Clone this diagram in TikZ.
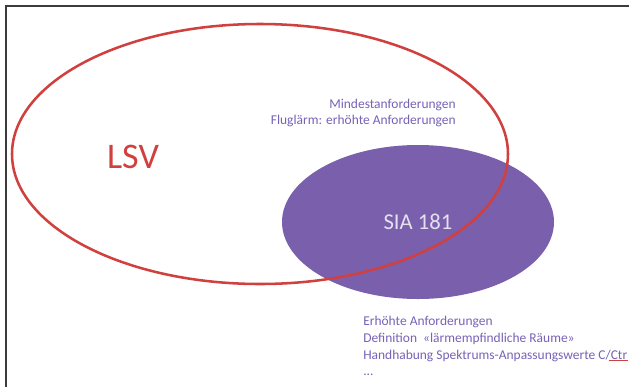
\documentclass[tikz,border=0pt]{standalone}
\usepackage{fontspec}
\setmainfont{Carlito}
\usetikzlibrary{shapes.geometric}

\definecolor{lsvred}{RGB}{208,64,62}
\definecolor{siaviolet}{RGB}{122,96,172}
\definecolor{notetext}{RGB}{118,98,182}
\definecolor{siatext}{RGB}{228,224,240}
\definecolor{framegray}{RGB}{60,60,60}

\begin{document}
\begin{tikzpicture}[x=0.75pt,y=0.75pt,yscale=-1,xscale=1,
  notes/.style={color=notetext, font=\fontsize{10.1}{12.6}\selectfont, inner sep=0pt},
  venn/.style={ellipse, outer sep=0pt, inner sep=0pt}]
\useasboundingbox (0,0) rectangle (629,387);

%Frame lines
\draw [color=framegray, line width=1.2] (6,387) -- (6,6) -- (629,6) ;

%Shape: Ellipse SIA
\node [venn, fill=siaviolet, minimum width=204, minimum height=115.5, text=siatext,
  font=\fontsize{17}{20}\selectfont] (sia) at (418,222) {SIA 181};
%Shape: Ellipse LSV
\draw (260,154) node [venn, draw=lsvred, line width=1.9, minimum width=372, minimum height=195] (lsv) {};

% Text Node
\node [color=lsvred, font=\fontsize{27}{30}\selectfont, inner sep=0pt] (lsvlabel) at (133,157) {LSV};
% Text Node
\node [notes, align=right, anchor=east] (upper) at (456,113) {Mindestanforderungen\\Fluglärm: erhöhte Anforderungen};
% Text Node
\node [notes, align=left, anchor=west] (lower) at (363,346) {Erhöhte Anforderungen\\Definition\ \ «lärmempfindliche Räume»\\Handhabung Spektrums-Anpassungswerte C/Ctr\\...};

%Spell check underline
\draw [color=lsvred, line width=0.6] ([xshift=-14, yshift=11]lower.east) -- ([yshift=11]lower.east) ;

\end{tikzpicture}
\end{document}
